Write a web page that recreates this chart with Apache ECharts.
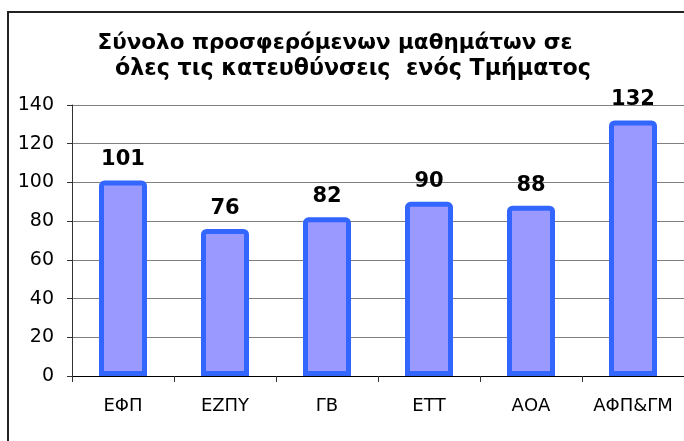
<!DOCTYPE html>
<html>
<head>
<meta charset="utf-8">
<script src="https://cdn.jsdelivr.net/npm/echarts@6/dist/echarts.min.js"></script>
<style>
html,body{margin:0;padding:0;background:#fff;overflow:hidden;}
#wrap{position:relative;width:684px;height:441px;overflow:hidden;}
#c{width:684px;height:441px;}
#frame{position:absolute;left:7px;top:11px;width:760px;height:520px;border:2px solid #222;pointer-events:none;}
</style>
</head>
<body>
<div id="wrap"><div id="c"></div><div id="frame"></div></div>
<script>
const titleLines = ['Σύνολο προσφερόμενων μαθημάτων σε', 'όλες τις κατευθύνσεις  ενός Τμήματος'];
const categories = ['ΕΦΠ', 'ΕΖΠΥ', 'ΓΒ', 'ΕΤΤ', 'ΑΟΑ', 'ΑΦΠ&ΓΜ'];
const values = [101, 76, 82, 90, 88, 132];
const yTicks = [0, 20, 40, 60, 80, 100, 120, 140];

const titleStyle = (size) => ({
  fontFamily: 'DejaVu Sans',
  fontWeight: 'bold',
  fontSize: size,
  lineHeight: 26,
  color: '#000'
});

const chart = echarts.init(document.getElementById('c'), null, {renderer: 'canvas'});
chart.setOption({
  animation: false,
  backgroundColor: '#fff',
  title: [
    {text: titleLines[0], left: 335, top: 30, padding: 0, textAlign: 'center', textStyle: titleStyle(21.5)},
    {text: titleLines[1], left: 353, top: 56, padding: 0, textAlign: 'center', textStyle: titleStyle(22.2)}
  ],
  grid: {left: 72, top: 105, bottom: 65, width: 619, containLabel: false},
  xAxis: {
    type: 'category',
    data: categories,
    axisLine: {show: true, lineStyle: {color: '#000', width: 1}},
    axisTick: {show: true, alignWithLabel: false, length: 6, lineStyle: {color: '#333'}},
    axisLabel: {fontFamily: 'DejaVu Sans', fontSize: 18, color: '#000', margin: 21, interval: 0}
  },
  yAxis: {
    type: 'value',
    min: yTicks[0],
    max: yTicks[yTicks.length - 1],
    interval: yTicks[1] - yTicks[0],
    axisLine: {show: true, lineStyle: {color: '#333', width: 1}},
    axisTick: {show: true, length: 5, lineStyle: {color: '#333'}},
    axisLabel: {fontFamily: 'DejaVu Sans', fontSize: 19, color: '#000', margin: 18},
    splitLine: {show: true, lineStyle: {color: '#808080', width: 1}}
  },
  series: [{
    type: 'bar',
    data: values,
    barWidth: 48,
    itemStyle: {color: '#9999FF', borderColor: '#3366FF', borderWidth: 5, borderRadius: [3, 3, 0, 0]},
    label: {
      show: true,
      position: 'top',
      distance: 10,
      fontFamily: 'DejaVu Sans',
      fontWeight: 'bold',
      fontSize: 21,
      color: '#000'
    }
  }]
});
</script>
</body>
</html>
